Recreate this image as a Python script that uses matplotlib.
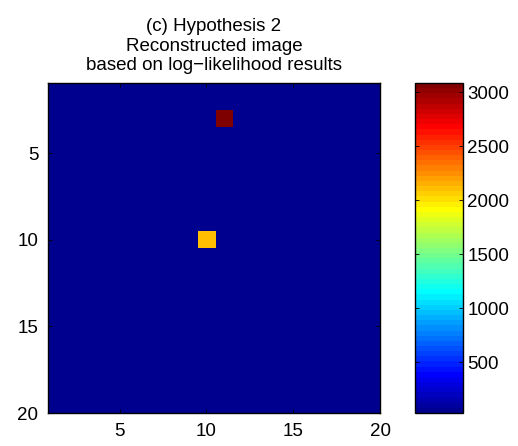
import numpy as np
import matplotlib
matplotlib.use("Agg")
import matplotlib.pyplot as plt
from matplotlib.colors import ListedColormap

# ---- data ----
grid_size = 20
background_value = 30
hot_rows = [3, 10]
hot_cols = [11, 10]
hot_values = [3085, 2100]
xticks = [5, 10, 15, 20]
yticks = [5, 10, 15, 20]
cbar_ticks = [500, 1000, 1500, 2000, 2500, 3000]
title_lines = ["(c) Hypothesis 2", "Reconstructed image", "based on log\u2212likelihood results"]

img = np.full((grid_size, grid_size), float(background_value))
for r, c, v in zip(hot_rows, hot_cols, hot_values):
    img[r - 1, c - 1] = v

# MATLAB jet(64)
def matlab_jet(m=64):
    n = int(np.ceil(m / 4))
    u = np.concatenate([np.arange(1, n + 1) / n, np.ones(n - 1), np.arange(n, 0, -1) / n])
    g = int(np.ceil(n / 2)) - (1 if m % 4 == 1 else 0) + np.arange(1, len(u) + 1)
    r = g + n
    b = g - n
    J = np.zeros((m, 3))
    for idx, col in ((r, 0), (g, 1), (b, 2)):
        mask = (idx >= 1) & (idx <= m)
        J[idx[mask] - 1, col] = u[mask]
    return ListedColormap(J)

cmap = matlab_jet(64)

plt.rcParams['font.family'] = ['Liberation Sans', 'DejaVu Sans']
fs = 13.5

fig = plt.figure(figsize=(5.18, 4.46), dpi=100)
ax = fig.add_axes([48 / 518, 33 / 446, 332 / 518, 330 / 446])
im = ax.imshow(img, cmap=cmap, vmin=img.min(), vmax=img.max(),
               extent=(0.5, grid_size + 0.5, grid_size + 0.5, 0.5),
               aspect='auto', interpolation='nearest')
ax.set_xlim(0.87, 20)
ax.set_ylim(20, 0.95)
ax.set_xticks(xticks)
ax.set_yticks(yticks)
ax.tick_params(direction='in', length=3, width=0.6, labelsize=fs, pad=7,
               top=True, right=True)
for s in ax.spines.values():
    s.set_linewidth(1.0)
ax.set_title("\n".join(title_lines), fontsize=fs, pad=9, linespacing=1.2)

cax = fig.add_axes([415 / 518, 33 / 446, 48 / 518, 330 / 446])
cb = fig.colorbar(im, cax=cax, ticks=cbar_ticks)
cb.ax.tick_params(direction='in', length=3, width=0.6, labelsize=fs, pad=3,
                  left=True, right=True)
cb.outline.set_linewidth(1.0)

fig.savefig("out.png", dpi=100)
